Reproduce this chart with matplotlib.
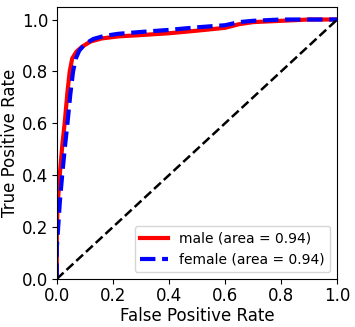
import matplotlib
matplotlib.use("Agg")
import matplotlib.pyplot as plt

# ROC points
fpr_male = [0.0, 0.0, 0.004, 0.012, 0.02, 0.028, 0.038, 0.046, 0.055, 0.07, 0.09, 0.12, 0.16,
            0.22, 0.3, 0.4, 0.5, 0.6, 0.65, 0.7, 0.8, 0.9, 1.0]
tpr_male = [0.0, 0.2, 0.3, 0.42, 0.52, 0.6, 0.72, 0.8, 0.85, 0.876, 0.895, 0.915, 0.927,
            0.935, 0.94, 0.947, 0.957, 0.968, 0.982, 0.99, 0.995, 1.0, 1.0]
fpr_female = [0.0, 0.0, 0.011, 0.02, 0.03, 0.038, 0.048, 0.058, 0.068, 0.08, 0.1, 0.13, 0.17,
              0.22, 0.3, 0.4, 0.5, 0.6, 0.65, 0.7, 0.8, 0.9, 1.0]
tpr_female = [0.0, 0.12, 0.3, 0.41, 0.52, 0.6, 0.71, 0.8, 0.85, 0.88, 0.905, 0.925, 0.937,
              0.945, 0.952, 0.96, 0.97, 0.978, 0.99, 0.995, 1.0, 1.0, 1.0]
auc_male = 0.94
auc_female = 0.94

fig, ax = plt.subplots(figsize=(3.55, 3.27), dpi=100)
ax.plot(fpr_male, tpr_male, color='red', lw=3, label=f'male (area = {auc_male:.2f})')
ax.plot(fpr_female, tpr_female, color='blue', lw=3, linestyle='--',
        label=f'female (area = {auc_female:.2f})')
ax.plot([0, 1], [0, 1], color='black', lw=1.8, linestyle='--')

ax.set_xlim(0.0, 1.0)
ax.set_ylim(0.0, 1.05)
ax.set_xticks([0.0, 0.2, 0.4, 0.6, 0.8, 1.0])
ax.set_yticks([0.0, 0.2, 0.4, 0.6, 0.8, 1.0])
ax.tick_params(labelsize=12, pad=2.5)
ax.set_xlabel('False Positive Rate', fontsize=12, labelpad=1)
ax.set_ylabel('True Positive Rate', fontsize=12, labelpad=2)
ax.legend(loc='lower right', fontsize=10)

fig.subplots_adjust(left=0.16, right=0.95, top=0.98, bottom=0.147)
fig.savefig('out.png', dpi=100)
